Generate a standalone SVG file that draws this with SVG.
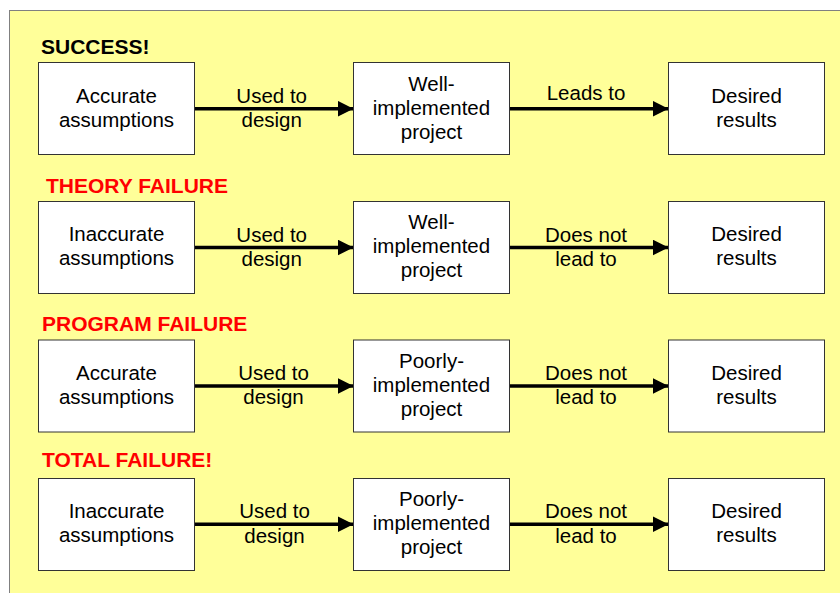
<svg xmlns="http://www.w3.org/2000/svg" width="840" height="593" viewBox="0 0 840 593">
<style>
.bg{fill:#FFFF99;stroke:#808080;stroke-width:1}
.box{fill:#FFFFFF;stroke:#333333;stroke-width:1}
.t{font-family:"Liberation Sans",Arial,sans-serif;font-size:20.5px;fill:#000;text-anchor:middle}
.h{font-family:"Liberation Sans",Arial,sans-serif;font-size:21px;font-weight:bold}
.blk{fill:#000}
.red{fill:#FF0000}
.c line{stroke:#000;stroke-width:3.5;marker-end:url(#ah)}
</style>
<defs>
<marker id="ah" markerUnits="userSpaceOnUse" markerWidth="16" markerHeight="16" refX="15" refY="7.5" orient="auto" viewBox="0 0 15 15">
<polygon points="0,0 15,7.5 0,15" fill="#000"/>
</marker>
</defs>
<rect width="840" height="593" fill="#FFFFFF"/>
<rect class="bg" x="9.5" y="10.5" width="840" height="600"/>

<g id="titles">
<text class="h blk" x="41" y="53.5">SUCCESS!</text>
<text class="h red" x="46" y="192.5">THEORY FAILURE</text>
<text class="h red" x="42" y="330.8">PROGRAM FAILURE</text>
<text class="h red" x="42" y="467.3">TOTAL FAILURE!</text>
</g>

<g class="c" id="connectors">
<line x1="195" y1="108.7" x2="353.5" y2="108.7"/>
<line x1="509" y1="108.7" x2="668.5" y2="108.7"/>
<line x1="195" y1="247.5" x2="353.5" y2="247.5"/>
<line x1="509" y1="247.5" x2="668.5" y2="247.5"/>
<line x1="195" y1="386" x2="353.5" y2="386"/>
<line x1="509" y1="386" x2="668.5" y2="386"/>
<line x1="195" y1="524.2" x2="353.5" y2="524.2"/>
<line x1="509" y1="524.2" x2="668.5" y2="524.2"/>
</g>

<g id="edge-labels">
<text class="t" x="271.7" y="102.7">Used to</text>
<text class="t" x="271.7" y="127">design</text>
<text class="t" x="586" y="100">Leads to</text>
<text class="t" x="271.7" y="241.5">Used to</text>
<text class="t" x="271.7" y="265.8">design</text>
<text class="t" x="586" y="241.5">Does not</text>
<text class="t" x="586" y="265.8">lead to</text>
<text class="t" x="273.5" y="380">Used to</text>
<text class="t" x="273.5" y="404.3">design</text>
<text class="t" x="586" y="380">Does not</text>
<text class="t" x="586" y="404.3">lead to</text>
<text class="t" x="274.5" y="518.2">Used to</text>
<text class="t" x="274.5" y="542.5">design</text>
<text class="t" x="586" y="518.2">Does not</text>
<text class="t" x="586" y="542.5">lead to</text>
</g>

<g id="n1a"><rect class="box" x="38.5" y="62.5" width="156" height="92"/>
<text class="t" x="116.5" y="102.7">Accurate</text><text class="t" x="116.5" y="126.7">assumptions</text></g>
<g id="n1b"><rect class="box" x="353.5" y="62.5" width="156" height="92"/>
<text class="t" x="431.5" y="90.5">Well-</text><text class="t" x="431.5" y="114.7">implemented</text><text class="t" x="431.5" y="138.7">project</text></g>
<g id="n1c"><rect class="box" x="668.5" y="62.5" width="156" height="92"/>
<text class="t" x="746.5" y="102.7">Desired</text><text class="t" x="746.5" y="126.7">results</text></g>

<g id="n2a"><rect class="box" x="38.5" y="201.5" width="156" height="92"/>
<text class="t" x="116.5" y="241">Inaccurate</text><text class="t" x="116.5" y="265">assumptions</text></g>
<g id="n2b"><rect class="box" x="353.5" y="201.5" width="156" height="92"/>
<text class="t" x="431.5" y="229">Well-</text><text class="t" x="431.5" y="253.2">implemented</text><text class="t" x="431.5" y="277.2">project</text></g>
<g id="n2c"><rect class="box" x="668.5" y="201.5" width="156" height="92"/>
<text class="t" x="746.5" y="241">Desired</text><text class="t" x="746.5" y="265">results</text></g>

<g id="n3a"><rect class="box" x="38.5" y="340" width="156" height="92"/>
<text class="t" x="116.5" y="379.5">Accurate</text><text class="t" x="116.5" y="403.5">assumptions</text></g>
<g id="n3b"><rect class="box" x="353.5" y="340" width="156" height="92"/>
<text class="t" x="431.5" y="367.5">Poorly-</text><text class="t" x="431.5" y="391.7">implemented</text><text class="t" x="431.5" y="415.7">project</text></g>
<g id="n3c"><rect class="box" x="668.5" y="340" width="156" height="92"/>
<text class="t" x="746.5" y="379.5">Desired</text><text class="t" x="746.5" y="403.5">results</text></g>

<g id="n4a"><rect class="box" x="38.5" y="478.5" width="156" height="92"/>
<text class="t" x="116.5" y="517.7">Inaccurate</text><text class="t" x="116.5" y="541.7">assumptions</text></g>
<g id="n4b"><rect class="box" x="353.5" y="478.5" width="156" height="92"/>
<text class="t" x="431.5" y="506">Poorly-</text><text class="t" x="431.5" y="530.2">implemented</text><text class="t" x="431.5" y="554.2">project</text></g>
<g id="n4c"><rect class="box" x="668.5" y="478.5" width="156" height="92"/>
<text class="t" x="746.5" y="517.7">Desired</text><text class="t" x="746.5" y="541.7">results</text></g>
</svg>
